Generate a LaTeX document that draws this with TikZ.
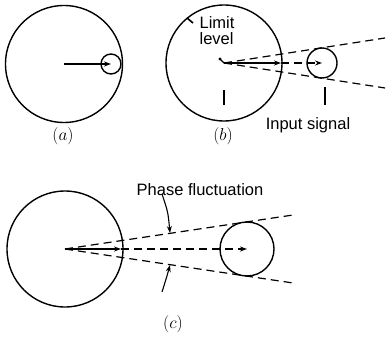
\documentclass[tikz,border=0pt]{standalone}
\usepackage{fontspec}
\setmainfont{Liberation Sans}
\usetikzlibrary{arrows.meta}
\begin{document}
\begin{tikzpicture}[x=1pt,y=-1pt,line width=1.3pt,
  ring/.style={circle,draw,inner sep=0pt,line width=1.4pt},
  dsh/.style={dash pattern=on 8pt off 5pt,line width=1.2pt},
  tip/.style={-{Stealth[length=7pt,width=5pt]}},
  lab/.style={font=\fontsize{16.5}{17}\selectfont,inner sep=0pt},
  figlab/.style={font=\fontsize{19}{21}\selectfont,inner sep=0pt}]
\useasboundingbox (0,0) rectangle (387,344);
% ---------- (a)
\node[ring,minimum size=117pt] (A) at (64,64) {};
\node[ring,minimum size=20pt] (a) at (111,64) {};
\draw[tip] (A.center) -- (a.center);
\node[figlab] (la) at (63,136) {$(a)$};
% ---------- (b)
\node[ring,minimum size=116pt] (B) at (224,63) {};
\node[ring,minimum size=30pt] (b) at (322,63) {};
\coordinate (bu) at (385,38);
\coordinate (bd) at (385,88);
\coordinate (be) at (281,63);
\draw[dsh] (B.center) -- (bu);
\draw[dsh] (B.center) -- (bd);
\draw[tip,line width=1.1pt] (B.center) -- (be);
\draw[dsh,tip] (be) -- (b.center);
\fill (220,59) circle (1.6pt);
\draw (220,59) -- (B.center);
\coordinate (lt1) at (187,18);
\coordinate (lt2) at (193,23);
\draw[line width=1.6pt] (lt1) -- (lt2);
\node[lab,anchor=north west,align=left] (lim) at (199,16) {Limit\\[-1pt]level};
\coordinate (t1a) at (224,90);
\coordinate (t1b) at (224,105);
\draw (t1a) -- (t1b);
\coordinate (t2a) at (325,87);
\coordinate (t2b) at (325,105);
\draw (t2a) -- (t2b);
\node[lab] (inp) at (308,125) {Input signal};
\node[figlab] (lb) at (223,136) {$(b)$};
% ---------- (c)
\node[ring,minimum size=116pt] (C) at (65,249) {};
\node[ring,minimum size=54pt] (c) at (247,249) {};
\coordinate (cu) at (293,215);
\coordinate (cd) at (293,283);
\coordinate (ce) at (121,249);
\draw[dsh] (C.center) -- (cu);
\draw[dsh] (C.center) -- (cd);
\draw[tip,line width=1.1pt] (C.center) -- (ce);
\draw[dsh,tip] (ce) -- (c.center);
\node[lab] (ph) at (200,190) {Phase fluctuation};
\coordinate (p1) at (162,194);
\coordinate (p2) at (170,233);
\coordinate (q1) at (162,292);
\coordinate (q2) at (170,265);
\draw[tip,line width=1.1pt] (p1) .. controls (168,212) .. (p2);
\draw[tip,line width=1.1pt] (q1) .. controls (167,276) .. (q2);
\node[figlab] (lc) at (173,324) {$(c)$};
\end{tikzpicture}
\end{document}
